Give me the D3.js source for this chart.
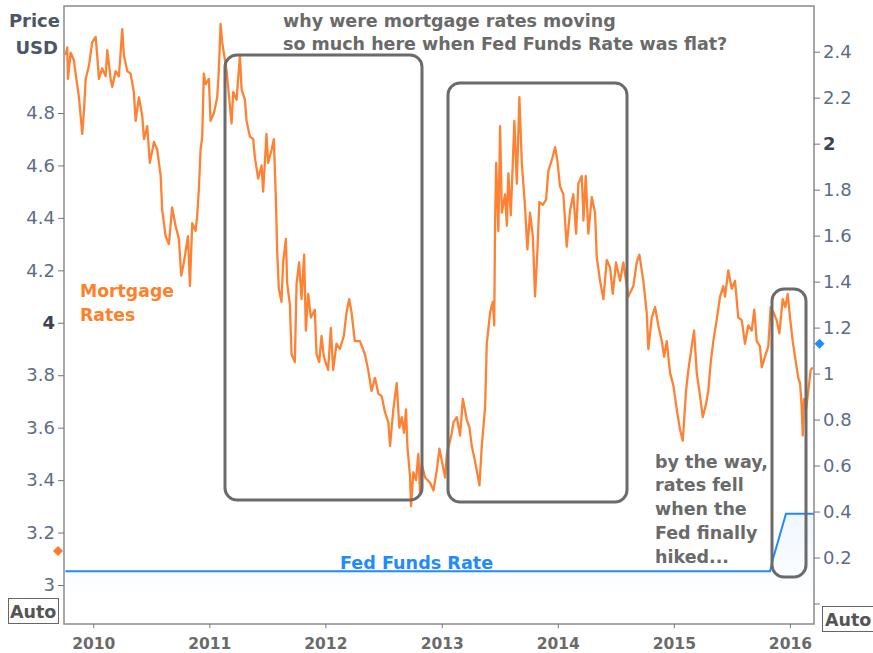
<!DOCTYPE html>
<html>
<head>
<meta charset="utf-8">
<script src="https://cdn.jsdelivr.net/npm/d3@7/dist/d3.min.js"></script>
<style>
  html, body { margin: 0; padding: 0; background: #fff; }
  svg { display: block; font-family: "DejaVu Sans", sans-serif; }
</style>
</head>
<body>
<div id="chart"></div>
<script>
// mortgage rates, time given as decimal year
var mortgageT = [
  2009.762, 2009.776, 2009.782, 2009.805, 2009.834, 2009.848, 2009.877, 2009.905, 2009.920, 2009.935,
  2009.963, 2009.991, 2010.021, 2010.034, 2010.049, 2010.077, 2010.107, 2010.121, 2010.150, 2010.164,
  2010.193, 2010.221, 2010.250, 2010.264, 2010.293, 2010.322, 2010.350, 2010.365, 2010.394, 2010.422,
  2010.437, 2010.465, 2010.488, 2010.523, 2010.551, 2010.581, 2010.594, 2010.624, 2010.652, 2010.680,
  2010.709, 2010.738, 2010.758, 2010.781, 2010.816, 2010.833, 2010.853, 2010.882, 2010.896, 2010.910,
  2010.925, 2010.939, 2010.953, 2010.968, 2010.996, 2011.011, 2011.040, 2011.068, 2011.082, 2011.097,
  2011.111, 2011.149, 2011.192, 2011.206, 2011.235, 2011.264, 2011.278, 2011.307, 2011.321, 2011.350,
  2011.378, 2011.393, 2011.421, 2011.450, 2011.464, 2011.493, 2011.507, 2011.537, 2011.556, 2011.574,
  2011.585, 2011.599, 2011.622, 2011.636, 2011.660, 2011.671, 2011.694, 2011.709, 2011.737, 2011.752,
  2011.774, 2011.795, 2011.817, 2011.832, 2011.852, 2011.875, 2011.909, 2011.924, 2011.947, 2011.967,
  2011.987, 2012.024, 2012.047, 2012.067, 2012.096, 2012.125, 2012.159, 2012.182, 2012.205, 2012.225,
  2012.253, 2012.297, 2012.340, 2012.368, 2012.397, 2012.426, 2012.455, 2012.484, 2012.512, 2012.541,
  2012.556, 2012.584, 2012.613, 2012.636, 2012.656, 2012.676, 2012.693, 2012.705, 2012.728, 2012.736,
  2012.756, 2012.779, 2012.799, 2012.814, 2012.828, 2012.857, 2012.900, 2012.929, 2012.958, 2012.980,
  2013.029, 2013.044, 2013.087, 2013.101, 2013.130, 2013.158, 2013.182, 2013.216, 2013.239, 2013.259,
  2013.288, 2013.325, 2013.345, 2013.374, 2013.388, 2013.417, 2013.440, 2013.452, 2013.460, 2013.469,
  2013.488, 2013.503, 2013.518, 2013.546, 2013.561, 2013.574, 2013.595, 2013.626, 2013.647, 2013.669,
  2013.690, 2013.718, 2013.738, 2013.761, 2013.785, 2013.804, 2013.824, 2013.841, 2013.871, 2013.899,
  2013.919, 2013.948, 2013.977, 2013.996, 2014.019, 2014.048, 2014.077, 2014.106, 2014.134, 2014.158,
  2014.177, 2014.207, 2014.221, 2014.241, 2014.263, 2014.293, 2014.321, 2014.336, 2014.364, 2014.393,
  2014.422, 2014.451, 2014.474, 2014.502, 2014.537, 2014.565, 2014.608, 2014.651, 2014.680, 2014.703,
  2014.737, 2014.766, 2014.780, 2014.810, 2014.838, 2014.866, 2014.896, 2014.916, 2014.939, 2014.967,
  2014.996, 2015.025, 2015.054, 2015.077, 2015.105, 2015.125, 2015.154, 2015.174, 2015.197, 2015.226,
  2015.249, 2015.277, 2015.297, 2015.318, 2015.340, 2015.369, 2015.398, 2015.426, 2015.441, 2015.469,
  2015.499, 2015.527, 2015.555, 2015.585, 2015.613, 2015.641, 2015.671, 2015.693, 2015.714, 2015.742,
  2015.757, 2015.785, 2015.814, 2015.834, 2015.857, 2015.886, 2015.909, 2015.938, 2015.961, 2015.981,
  2016.001, 2016.024, 2016.044, 2016.072, 2016.087, 2016.101, 2016.110, 2016.121, 2016.139, 2016.158,
  2016.179, 2016.196
];
var mortgageRate = [
  5.02, 5.05, 4.93, 5.03, 5.00, 4.95, 4.86, 4.72, 4.81, 4.93,
  4.98, 5.07, 5.09, 5.02, 4.93, 4.97, 4.94, 5.04, 4.93, 4.90,
  4.96, 4.94, 5.12, 5.02, 4.96, 4.95, 4.88, 4.77, 4.86, 4.79,
  4.70, 4.75, 4.61, 4.69, 4.66, 4.56, 4.43, 4.33, 4.30, 4.44,
  4.37, 4.32, 4.18, 4.23, 4.33, 4.14, 4.38, 4.35, 4.41, 4.51,
  4.66, 4.71, 4.95, 4.91, 4.93, 4.77, 4.80, 4.86, 4.96, 5.14,
  5.07, 4.96, 4.76, 4.88, 4.85, 5.02, 4.89, 4.85, 4.77, 4.71,
  4.70, 4.63, 4.55, 4.60, 4.50, 4.72, 4.61, 4.66, 4.70, 4.47,
  4.27, 4.13, 4.08, 4.23, 4.32, 4.15, 4.07, 3.88, 3.85, 4.15,
  4.23, 4.09, 4.26, 3.97, 4.11, 4.02, 4.05, 3.88, 3.85, 3.95,
  3.87, 3.82, 3.98, 3.82, 3.92, 3.90, 3.95, 4.04, 4.09, 4.04,
  3.93, 3.93, 3.88, 3.82, 3.74, 3.79, 3.73, 3.72, 3.66, 3.62,
  3.53, 3.67, 3.77, 3.60, 3.64, 3.58, 3.67, 3.53, 3.41, 3.30,
  3.43, 3.40, 3.50, 3.35, 3.46, 3.41, 3.39, 3.36, 3.44, 3.52,
  3.41, 3.50, 3.58, 3.62, 3.64, 3.57, 3.71, 3.63, 3.60, 3.53,
  3.47, 3.38, 3.53, 3.68, 3.92, 4.04, 4.08, 3.99, 4.39, 4.61,
  4.35, 4.75, 4.42, 4.49, 4.37, 4.57, 4.41, 4.77, 4.53, 4.86,
  4.61, 4.44, 4.28, 4.42, 4.33, 4.10, 4.27, 4.46, 4.45, 4.47,
  4.58, 4.62, 4.67, 4.62, 4.52, 4.49, 4.29, 4.43, 4.49, 4.34,
  4.53, 4.56, 4.39, 4.56, 4.34, 4.48, 4.42, 4.25, 4.16, 4.09,
  4.24, 4.21, 4.11, 4.23, 4.16, 4.23, 4.10, 4.14, 4.23, 4.26,
  4.16, 4.04, 3.90, 4.02, 4.06, 3.99, 3.93, 3.87, 3.93, 3.81,
  3.76, 3.67, 3.59, 3.55, 3.74, 3.82, 3.91, 3.97, 3.81, 3.72,
  3.64, 3.69, 3.74, 3.85, 3.93, 4.01, 4.10, 4.14, 4.10, 4.20,
  4.13, 4.16, 4.02, 4.01, 3.92, 3.99, 3.97, 4.05, 3.93, 3.91,
  3.83, 3.87, 3.91, 4.06, 4.04, 4.01, 3.96, 4.09, 4.06, 4.11,
  4.02, 3.93, 3.87, 3.79, 3.77, 3.68, 3.57, 3.71, 3.67, 3.74,
  3.82, 3.83
];

// fed funds rate (right axis)
var fedT = [2009.76, 2015.829, 2015.852, 2015.966, 2016.21];
var fedRate = [0.14, 0.14, 0.19, 0.39, 0.39];

var years = [2010, 2011, 2012, 2013, 2014, 2015, 2016];
var leftTicks = [3, 3.2, 3.4, 3.6, 3.8, 4, 4.2, 4.4, 4.6, 4.8];
var rightTicks = [0, 0.2, 0.4, 0.6, 0.8, 1, 1.2, 1.4, 1.6, 1.8, 2, 2.2, 2.4];

var W = 873, H = 653;
var plot = {left: 64, top: 6, right: 814, bottom: 624};

function toDate(t) {
  var y = Math.floor(t);
  var a = new Date(y, 0, 1), b = new Date(y + 1, 0, 1);
  return new Date(+a + (t - y) * (b - a));
}

var svg = d3.select("#chart").append("svg")
  .attr("width", W).attr("height", H);

var x = d3.scaleTime()
  .domain([toDate(2009.748), toDate(2016.207)])
  .range([plot.left, plot.right]);

var yL = d3.scaleLinear().domain([3, 4.8]).range([585, 113]);
var yR = d3.scaleLinear().domain([0, 2.4]).range([603.5, 51.7]);

var defs = svg.append("defs");
var grad = defs.append("linearGradient").attr("id", "fedfill")
  .attr("x1", 0).attr("y1", 0).attr("x2", 0).attr("y2", 1);
grad.append("stop").attr("offset", "0%").attr("stop-color", "#1f8bff").attr("stop-opacity", 0.07);
grad.append("stop").attr("offset", "100%").attr("stop-color", "#1f8bff").attr("stop-opacity", 0.0);

defs.append("clipPath").attr("id", "clip")
  .append("rect").attr("x", plot.left).attr("y", plot.top)
  .attr("width", plot.right - plot.left).attr("height", plot.bottom - plot.top);

var fed = fedT.map(function(t, i) { return {d: toDate(t), v: fedRate[i]}; });
var mort = mortgageT.map(function(t, i) { return {d: toDate(t), v: mortgageRate[i]}; });

var g = svg.append("g").attr("clip-path", "url(#clip)");

// fed funds area + line
g.append("path").datum(fed)
  .attr("fill", "url(#fedfill)")
  .attr("d", d3.area()
    .x(function(d) { return x(d.d); })
    .y0(yR(0) - 3)
    .y1(function(d) { return yR(d.v); }));

g.append("path").datum(fed)
  .attr("fill", "none")
  .attr("stroke", "#1f8bff")
  .attr("stroke-width", 2)
  .attr("d", d3.line()
    .x(function(d) { return x(d.d); })
    .y(function(d) { return yR(d.v); }));

// mortgage line
g.append("path").datum(mort)
  .attr("fill", "none")
  .attr("stroke", "#ff8234")
  .attr("stroke-width", 2.3)
  .attr("stroke-linejoin", "round")
  .attr("d", d3.line()
    .x(function(d) { return x(d.d); })
    .y(function(d) { return yL(d.v); }));

// frame
svg.append("rect")
  .attr("x", plot.left).attr("y", plot.top)
  .attr("width", plot.right - plot.left).attr("height", plot.bottom - plot.top)
  .attr("fill", "none").attr("stroke", "#8a8a8a").attr("stroke-width", 1.5);

// left axis
var axL = svg.append("g").attr("transform", "translate(" + plot.left + ",0)")
  .call(d3.axisLeft(yL).tickValues(leftTicks).tickSize(6).tickPadding(3)
    .tickFormat(function(d) { return d3.format("~g")(d); }));
axL.select(".domain").remove();
axL.selectAll(".tick line").attr("stroke", "#777");
axL.selectAll(".tick text")
  .attr("font-size", 18).attr("font-family", "DejaVu Sans")
  .attr("fill", function(d) { return d === 4 ? "#3c4452" : "#5d6d85"; })
  .attr("font-weight", function(d) { return d === 4 ? "bold" : "normal"; });

// right axis
var axR = svg.append("g").attr("transform", "translate(" + plot.right + ",0)")
  .call(d3.axisRight(yR).tickValues(rightTicks).tickSize(6).tickPadding(3)
    .tickFormat(function(d) { return d === 0 ? "" : d3.format("~g")(d); }));
axR.select(".domain").remove();
axR.selectAll(".tick line").attr("stroke", "#777");
axR.selectAll(".tick text")
  .attr("font-size", 18).attr("font-family", "DejaVu Sans")
  .attr("fill", function(d) { return d === 2 ? "#3c4452" : "#5d6d85"; })
  .attr("font-weight", function(d) { return d === 2 ? "bold" : "normal"; });

// bottom axis
var axB = svg.append("g").attr("transform", "translate(0," + plot.bottom + ")")
  .call(d3.axisBottom(x).tickValues(years.map(function(y) { return new Date(y, 0, 1); }))
    .tickSize(4).tickPadding(10).tickFormat(d3.timeFormat("%Y")));
axB.select(".domain").remove();
axB.selectAll(".tick line").attr("stroke", "#777");
axB.selectAll(".tick text")
  .attr("font-size", 15.5).attr("font-weight", "bold")
  .attr("font-family", "DejaVu Sans").attr("fill", "#6a6a6a");

// Price USD header
svg.append("text").attr("x", 60).attr("y", 27).attr("text-anchor", "end")
  .attr("font-size", 18).attr("font-weight", "bold").attr("fill", "#4b5666").text("Price");
svg.append("text").attr("x", 58).attr("y", 54).attr("text-anchor", "end")
  .attr("font-size", 18).attr("font-weight", "bold").attr("fill", "#4b5666").text("USD");

// Auto boxes
svg.append("rect").attr("x", 8.5).attr("y", 598.5).attr("width", 50).attr("height", 25)
  .attr("fill", "#fff").attr("stroke", "#666");
svg.append("text").attr("x", 10).attr("y", 618).attr("font-size", 17.5)
  .attr("font-weight", "bold").attr("fill", "#555").text("Auto");
svg.append("rect").attr("x", 822.5).attr("y", 606.5).attr("width", 60).attr("height", 25)
  .attr("fill", "#fff").attr("stroke", "#666");
svg.append("text").attr("x", 825).attr("y", 626).attr("font-size", 17.5)
  .attr("font-weight", "bold").attr("fill", "#555").text("Auto");

// current-value markers
svg.append("path").attr("d", d3.symbol(d3.symbolDiamond2, 64)())
  .attr("transform", "translate(58," + yL(3.13) + ")").attr("fill", "#ff7a2a");
svg.append("path").attr("d", d3.symbol(d3.symbolDiamond2, 64)())
  .attr("transform", "translate(819.5," + yR(1.13) + ")").attr("fill", "#1f8bff");

// series labels
svg.append("text").attr("x", 80).attr("y", 297).attr("font-size", 17.3)
  .attr("font-weight", "bold").attr("fill", "#ff7f2a").text("Mortgage");
svg.append("text").attr("x", 80).attr("y", 321).attr("font-size", 17.3)
  .attr("font-weight", "bold").attr("fill", "#ff7f2a").text("Rates");
svg.append("text").attr("x", 340).attr("y", 569).attr("font-size", 17.6)
  .attr("font-weight", "bold").attr("fill", "#1f8bff").text("Fed Funds Rate");

// highlight boxes
var boxes = [
  {x: 225, y: 55, w: 197, h: 445},
  {x: 448, y: 83, w: 179, h: 419},
  {x: 772, y: 289, w: 34, h: 288}
];
svg.selectAll("rect.hl").data(boxes).enter().append("rect").attr("class", "hl")
  .attr("x", function(d) { return d.x; }).attr("y", function(d) { return d.y; })
  .attr("width", function(d) { return d.w; }).attr("height", function(d) { return d.h; })
  .attr("rx", 12).attr("ry", 12)
  .attr("fill", "none").attr("stroke", "#6b6b6b").attr("stroke-width", 3);

// annotations
var note1 = ["why were mortgage rates moving", "so much here when Fed Funds Rate was flat?"];
svg.selectAll("text.n1").data(note1).enter().append("text").attr("class", "n1")
  .attr("x", 283).attr("y", function(d, i) { return 26.5 + i * 23.5; })
  .attr("font-size", 17.5).attr("font-weight", "bold").attr("fill", "#6a6a6a")
  .text(function(d) { return d; });

var note2 = ["by the way,", "rates fell", "when the", "Fed finally", "hiked..."];
svg.selectAll("text.n2").data(note2).enter().append("text").attr("class", "n2")
  .attr("x", 655).attr("y", function(d, i) { return 467.5 + i * 23.8; })
  .attr("font-size", 17.5).attr("font-weight", "bold").attr("fill", "#6a6a6a")
  .text(function(d) { return d; });
</script>
</body>
</html>
